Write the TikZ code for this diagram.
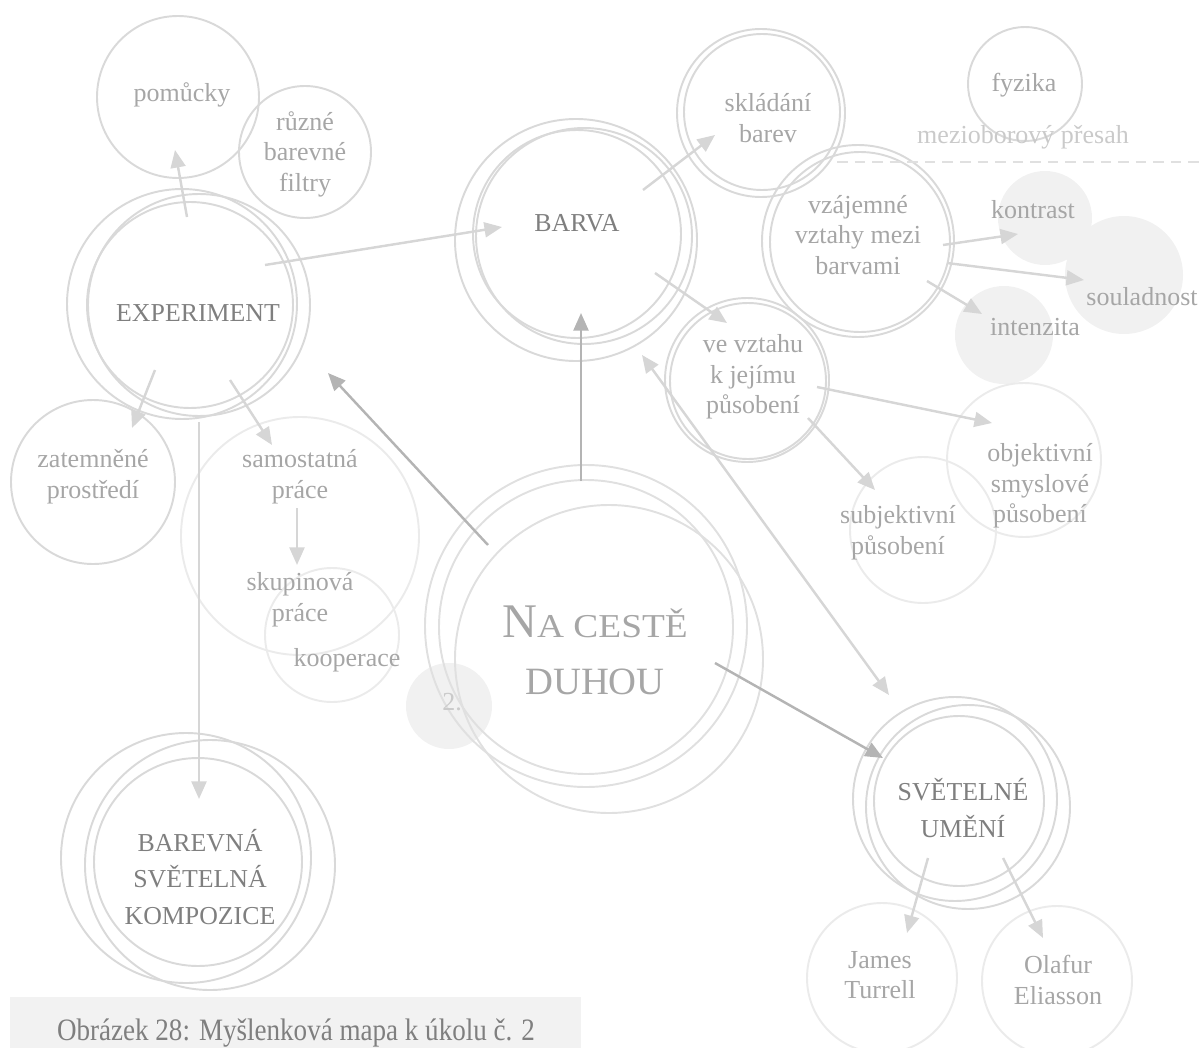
\documentclass[tikz,border=0pt]{standalone}
\usepackage{fontspec}
\setmainfont{Liberation Serif}
\usetikzlibrary{arrows.meta,calc}

\definecolor{ringgray}{HTML}{D9D9D9}
\definecolor{ringlight}{HTML}{EBEBEB}
\definecolor{ringmid}{HTML}{E0E0E0}
\definecolor{blobgray}{HTML}{F1F1F1}
\definecolor{maingray}{HTML}{7F7F7F}
\definecolor{subgray}{HTML}{A6A6A6}
\definecolor{paletext}{HTML}{CACACA}
\definecolor{arrowgray}{HTML}{D6D6D6}
\definecolor{darkarrow}{HTML}{B4B4B4}
\definecolor{capfill}{HTML}{F2F2F2}

\tikzset{
  ring/.style={draw=ringgray, line width=1.1pt},
  ringpale/.style={draw=ringlight, line width=1.1pt},
  ringcenter/.style={draw=ringmid, line width=1.1pt},
  blob/.style={fill=blobgray},
  big/.style={text=maingray, align=center, inner sep=0pt, font=\fontsize{14.7}{21}\selectfont},
  small/.style={text=subgray, align=center, inner sep=0pt, font=\fontsize{14.8}{17.4}\selectfont},
  arr/.style={draw=arrowgray, line width=1.4pt, -{Triangle[length=10pt,width=8.5pt]}},
  darr/.style={arr, draw=darkarrow},
}

\begin{document}
\begin{tikzpicture}[x=0.02cm,y=-0.02cm]
  \useasboundingbox (0,0) rectangle (1201,1048);
  % filled bubbles
  \fill[blob] (1045,218) circle[radius=47];
  \fill[blob] (1124,275) circle[radius=59];
  \fill[blob] (1004,335) circle[radius=49];
  \fill[blob] (449,706) circle[radius=43];
  % rings
  \draw[ring] (178,97) circle[radius=81];
  \draw[ring] (305,152) circle[radius=66];
  \draw[ring] (182,304) circle[radius=115];
  \draw[ring] (199,305) circle[radius=111];
  \draw[ring] (190,305) circle[radius=103];
  \draw[ring] (93,482) circle[radius=82];
  \draw[ringpale] (300,536) circle[radius=119];
  \draw[ringpale] (332,635) circle[radius=67];
  \draw[ring] (186,858) circle[radius=125];
  \draw[ring] (210,865) circle[radius=125];
  \draw[ring] (198,862) circle[radius=104];
  \draw[ring] (576,240) circle[radius=121];
  \draw[ring] (584,236) circle[radius=108];
  \draw[ring] (577,234) circle[radius=104];
  \draw[ring] (761,113) circle[radius=84];
  \draw[ring] (762,112) circle[radius=78];
  \draw[ring] (1025,84) circle[radius=57];
  \draw[ring] (858,241) circle[radius=96];
  \draw[ring] (860,242) circle[radius=90];
  \draw[ring] (747,380) circle[radius=82];
  \draw[ring] (748,381) circle[radius=78];
  \draw[ringpale] (923,530) circle[radius=73];
  \draw[ringpale] (1024,460) circle[radius=77];
  \draw[ringcenter] (586,626) circle[radius=161];
  \draw[ringcenter] (586,627) circle[radius=147];
  \draw[ringcenter] (609,659) circle[radius=154];
  \draw[ring] (955,799) circle[radius=102];
  \draw[ring] (968,807) circle[radius=102];
  \draw[ring] (959,801) circle[radius=85];
  \draw[ringpale] (882,978) circle[radius=75];
  \draw[ringpale] (1057,981) circle[radius=75];
  % divider
  \draw[ringmid, line width=1pt, dash pattern=on 6pt off 4pt] (837,162) -- (1201,162);

  % texts
  \node[small] (pom) at (182,95) {pomůcky};
  \node[small] (filt) at (305,154) {různé\\barevné\\filtry};
  \node[big] (exp) at (198,313) {EXPERIMENT};
  \node[small] (tma) at (93,477) {zatemněné\\prostředí};
  \node[small] (sam) at (300,477) {samostatná\\práce};
  \node[small] (skup) at (300,600) {skupinová\\práce};
  \node[small] (koop) at (347,660) {kooperace};
  \node[big] (kompo) at (200,877) {BAREVNÁ\\SVĚTELNÁ\\KOMPOZICE};
  \node[big] (barva) at (577,223) {BARVA};
  \node[small] (sklad) at (768,118) {skládání\\barev};
  \node[small] (fyz) at (1024,85) {fyzika};
  \node[small, text=paletext] (mezi) at (1023,137) {mezioborový přesah};
  \node[small] (vzaj) at (858,235) {vzájemné\\vztahy mezi\\barvami};
  \node[small] (kontr) at (1033,210) {kontrast};
  \node[small] (soul) at (1142,297) {souladnost};
  \node[small] (intz) at (1035,327) {intenzita};
  \node[small] (vevz) at (753,377) {ve vztahu\\k jejímu\\působení};
  \node[small] (subj) at (898,533) {subjektivní\\působení};
  \node[small] (obj) at (1040,486) {objektivní\\smyslové\\působení};
  \node[text=subgray, align=center, inner sep=0pt, font=\fontsize{22}{32.3}\selectfont] (cesta) at (595,650)
    {{\fontsize{27.5}{32.3}\selectfont N}\scalebox{1.12}[1]{\fontsize{19}{32.3}\selectfont A CESTĚ}\\DUHOU};
  \node[small, text=paletext] (two) at (452,702) {2.};
  \node[big] (svet) at (963,808) {SVĚTELNÉ\\UMĚNÍ};
  \node[small] (james) at (880,975) {James\\Turrell};
  \node[small] (olaf) at (1058,980) {Olafur\\Eliasson};

  % connectors
  \draw[arr] ($(exp)+(-11,-96)$) -- ($(pom)+(-7,55)$);
  \draw[arr] ($(exp)+(67,-48)$) -- ($(barva)+(-75,4)$);
  \draw[arr] ($(exp)+(-43,57)$) -- ($(tma)+(39,-49)$);
  \draw[arr] ($(exp)+(32,67)$) -- ($(sam)+(-28,-32)$);
  \draw[arr] ($(exp)+(1,109)$) -- ($(kompo)+(-1,-78)$);
  \draw[arr] ($(sam)+(-3,31)$) -- ($(skup)+(-3,-35)$);
  \draw[darr] ($(cesta)+(-107,-105)$) -- ($(exp)+(130,60)$);
  \draw[darr] ($(cesta)+(-14,-169)$) -- ($(barva)+(4,90)$);
  \draw[darr] ($(cesta)+(120,13)$) -- ($(svet)+(-80,-50)$);
  \draw[arr] ($(barva)+(66,-33)$) -- ($(sklad)+(-53,17)$);
  \draw[arr] ($(barva)+(78,50)$) -- ($(vevz)+(-26,-54)$);
  \draw[arr, {Triangle[length=10pt,width=8.5pt]}-{Triangle[length=10pt,width=8.5pt]}] ($(barva)+(65,132)$) -- ($(svet)+(-74,-113)$);
  \draw[arr] ($(vzaj)+(85,10)$) -- ($(kontr)+(-15,24)$);
  \draw[arr] ($(vzaj)+(89,28)$) -- ($(soul)+(-58,-17)$);
  \draw[arr] ($(vzaj)+(69,46)$) -- ($(intz)+(-53,-13)$);
  \draw[arr] ($(vevz)+(64,10)$) -- ($(obj)+(-48,-63)$);
  \draw[arr] ($(vevz)+(55,41)$) -- ($(subj)+(-23,-43)$);
  \draw[arr] ($(svet)+(-35,50)$) -- ($(james)+(27,-42)$);
  \draw[arr] ($(svet)+(40,50)$) -- ($(olaf)+(-15,-42)$);

  % caption
  \fill[capfill] (10,997) rectangle (581,1048);
  \node[text=maingray, inner sep=0pt, font=\fontsize{15.4}{18}\selectfont] (caption) at (296,1033)
    {\scalebox{1}[1.15]{Obrázek 28: Myšlenková mapa k úkolu č. 2}};
\end{tikzpicture}
\end{document}
